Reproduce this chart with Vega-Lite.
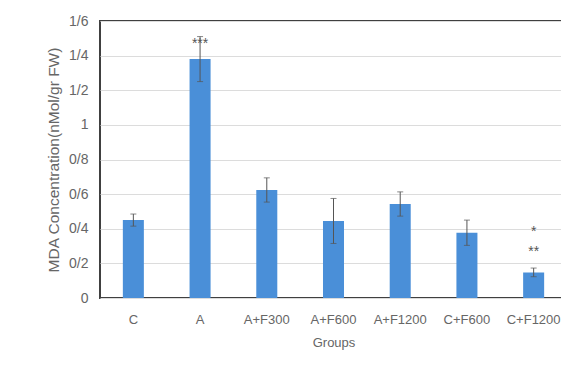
{
  "$schema": "https://vega.github.io/schema/vega-lite/v6.json",
  "width": 467,
  "height": 277,
  "autosize": {"type": "none"},
  "padding": {"left": 100, "top": 21, "right": 0, "bottom": 82},
  "background": "white",
  "config": {
    "font": "Liberation Sans",
    "view": {"stroke": "#404040", "strokeWidth": 2},
    "axis": {
      "labelColor": "#666666",
      "titleColor": "#666666",
      "titleFontWeight": "normal",
      "domain": false,
      "ticks": false,
      "tickSize": 0
    }
  },
  "data": {
    "values": [
      {"group": "C", "value": 0.45, "err": 0.035, "sig": ""},
      {"group": "A", "value": 1.38, "err": 0.13, "sig": "***"},
      {"group": "A+F300", "value": 0.624, "err": 0.07, "sig": ""},
      {"group": "A+F600", "value": 0.445, "err": 0.13, "sig": ""},
      {"group": "A+F1200", "value": 0.543, "err": 0.07, "sig": ""},
      {"group": "C+F600", "value": 0.377, "err": 0.073, "sig": ""},
      {"group": "C+F1200", "value": 0.148, "err": 0.025, "sig": "*\n**"}
    ]
  },
  "encoding": {
    "x": {
      "field": "group",
      "type": "nominal",
      "sort": null,
      "scale": {"paddingInner": 0.685, "paddingOuter": 0.3425},
      "axis": {
        "title": "Groups",
        "labelAngle": 0,
        "labelFontSize": 13,
        "labelPadding": 15,
        "titleFontSize": 13,
        "titlePadding": 10,
        "grid": false
      }
    },
    "y": {
      "field": "value",
      "type": "quantitative",
      "scale": {"domain": [0, 1.6], "nice": false},
      "axis": {
        "title": "MDA Concentration(nMol/gr FW)",
        "values": [0, 0.2, 0.4, 0.6, 0.8, 1, 1.2, 1.4, 1.6],
        "labelExpr": "replace(format(datum.value, '.1~f'), '.', '/')",
        "labelFontSize": 14,
        "labelPadding": 12,
        "titleFontSize": 15.5,
        "titlePadding": 7,
        "grid": true,
        "gridColor": "#dcdcdc",
        "gridWidth": 1
      }
    }
  },
  "layer": [
    {
      "mark": {"type": "bar", "color": "#4a8fd8"}
    },
    {
      "mark": {
        "type": "errorbar",
        "color": "#555555",
        "thickness": 1,
        "ticks": {"size": 6, "color": "#555555"}
      },
      "encoding": {
        "yError": {"field": "err"}
      }
    },
    {
      "transform": [{"filter": "datum.group === 'A'"}],
      "mark": {"type": "text", "fontSize": 14, "color": "#555555", "baseline": "alphabetic", "dy": -11},
      "encoding": {"text": {"field": "sig"}}
    },
    {
      "transform": [{"filter": "datum.group === 'C+F1200'"}],
      "mark": {"type": "text", "fontSize": 14, "color": "#555555", "baseline": "alphabetic", "lineBreak": "\n", "lineHeight": 20, "dy": -36},
      "encoding": {"text": {"field": "sig"}}
    }
  ]
}
